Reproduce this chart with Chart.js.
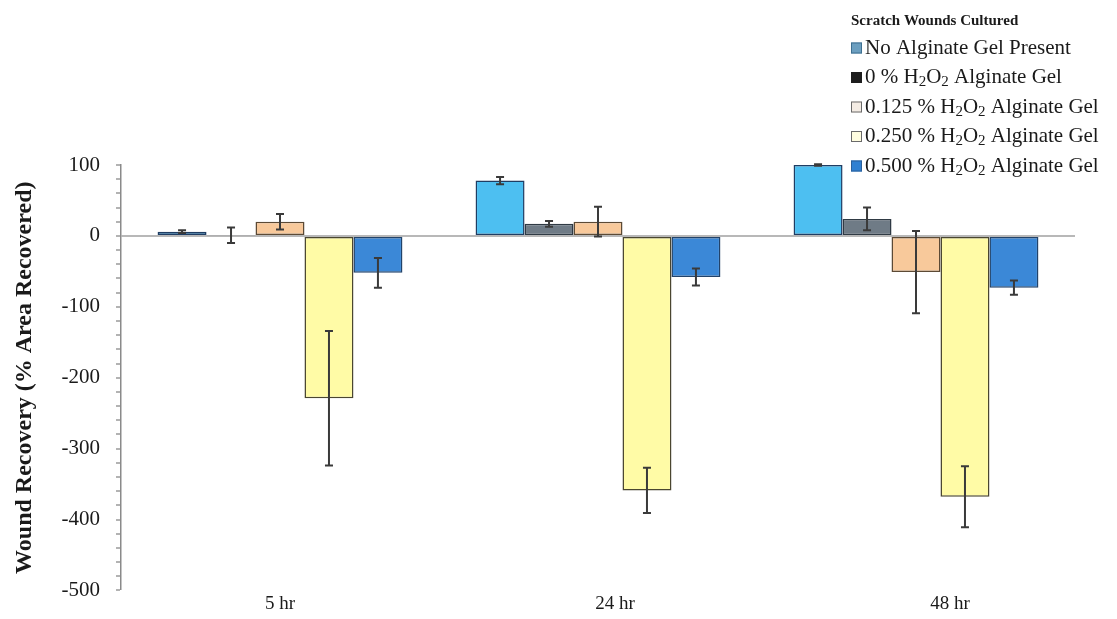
<!DOCTYPE html>
<html>
<head>
<meta charset="utf-8">
<title>Scratch wound recovery</title>
<script src="https://cdn.jsdelivr.net/npm/chart.js@4.4.1/dist/chart.umd.min.js"></script>
<style>
  html, body { margin: 0; padding: 0; background: #ffffff; }
  #wrap { width: 1117px; height: 619px; position: relative; }
</style>
</head>
<body>
<div id="wrap"><canvas id="chart"></canvas></div>
<script>
// Time points
const categories = ['5 hr', '24 hr', '48 hr'];

// Treatments (₂ is rendered as a subscript in the legend)
const seriesNames = [
  'No Alginate Gel Present',
  '0 % H₂O₂ Alginate Gel',
  '0.125 % H₂O₂ Alginate Gel',
  '0.250 % H₂O₂ Alginate Gel',
  '0.500 % H₂O₂ Alginate Gel'
];

// Mean wound recovery (% area recovered) and error (±)
const noGel      = [6, 78, 100];
const noGelErr   = [2, 5, 1];
const gel0       = [1, 17, 24];
const gel0Err    = [11, 4, 16];
const gel0125    = [20, 20, -51];
const gel0125Err = [11, 21, 58];
const gel0250    = [-229, -359, -368];
const gel0250Err = [95, 32, 43];
const gel0500    = [-52, -58, -73];
const gel0500Err = [21, 12, 10];

// Axis tick values
const yMin = -500, yMax = 100, yMinorStep = 20, yLabelStep = 100;

const fills   = ['#4dbff1', '#6f7b86', '#f8c99b', '#fffba6', '#3b88d7'];
const borders = ['#1f3d63', '#2f3a44', '#5c4a35', '#4a4630', '#22436a'];
const legendFills = ['#6c9fc0', '#1d1d1d', '#f4ece4', '#fffde0', '#2f80d2'];
const legendBorders = ['#3e6f90', '#1d1d1d', '#6a6a6a', '#6a6a6a', '#2a5f9a'];

const values = [noGel, gel0, gel0125, gel0250, gel0500];
const errors = [noGelErr, gel0Err, gel0125Err, gel0250Err, gel0500Err];

const SERIF = '"Liberation Serif", "Times New Roman", serif';

const datasets = seriesNames.map((name, i) => ({
  label: name,
  data: values[i],
  errors: errors[i],
  backgroundColor: fills[i],
  borderColor: borders[i],
  borderWidth: 1.5,
  borderSkipped: false,
  categoryPercentage: 0.77,
  barPercentage: 1.0
}));

// Error bars with caps
const errorBars = {
  id: 'errorBars',
  afterDatasetsDraw(chart) {
    const { ctx } = chart;
    const y = chart.scales.y;
    ctx.save();
    ctx.strokeStyle = '#3a3a3a';
    ctx.lineWidth = 2;
    chart.data.datasets.forEach((ds, i) => {
      const meta = chart.getDatasetMeta(i);
      meta.data.forEach((bar, j) => {
        const v = ds.data[j], e = ds.errors[j];
        const top = y.getPixelForValue(v + e);
        const bot = y.getPixelForValue(v - e);
        const cap = 4;
        ctx.beginPath();
        ctx.moveTo(bar.x, top); ctx.lineTo(bar.x, bot);
        ctx.moveTo(bar.x - cap, top); ctx.lineTo(bar.x + cap, top);
        ctx.moveTo(bar.x - cap, bot); ctx.lineTo(bar.x + cap, bot);
        ctx.stroke();
      });
    });
    ctx.restore();
  }
};

// Draws text where '₂' becomes a lowered, smaller "2"
function drawSubText(ctx, text, x, y, size) {
  const parts = text.split('₂');
  let cx = x;
  parts.forEach((p, k) => {
    ctx.font = size + 'px ' + SERIF;
    ctx.fillText(p, cx, y);
    cx += ctx.measureText(p).width;
    if (k < parts.length - 1) {
      ctx.font = Math.round(size * 0.72) + 'px ' + SERIF;
      ctx.fillText('2', cx, y + size * 0.22);
      cx += ctx.measureText('2').width;
    }
  });
}

// Legend block in the top-right corner
const sideLegend = {
  id: 'sideLegend',
  afterDraw(chart) {
    const { ctx } = chart;
    const left = 851, titleY = 21, firstY = 48, rowH = 29.5, box = 11;
    ctx.save();
    ctx.fillStyle = '#1a1a1a';
    ctx.textBaseline = 'middle';
    ctx.textAlign = 'left';
    ctx.font = 'bold 15px ' + SERIF;
    ctx.fillText('Scratch Wounds Cultured', left, titleY);
    chart.data.datasets.forEach((ds, i) => {
      const cy = firstY + i * rowH;
      ctx.fillStyle = legendFills[i];
      ctx.fillRect(left, cy - box / 2, box, box);
      ctx.strokeStyle = legendBorders[i];
      ctx.lineWidth = 1;
      ctx.strokeRect(left + 0.5, cy - box / 2 + 0.5, box - 1, box - 1);
      ctx.fillStyle = '#1a1a1a';
      drawSubText(ctx, ds.label, left + box + 3, cy, 21);
    });
    ctx.restore();
  }
};

new Chart(document.getElementById('chart'), {
  type: 'bar',
  data: { labels: categories, datasets },
  options: {
    responsive: true,
    maintainAspectRatio: false,
    animation: false,
    layout: { padding: { top: 165, right: 42, left: 0, bottom: 0 } },
    plugins: { legend: { display: false }, tooltip: { enabled: false } },
    scales: {
      x: {
        display: false
      },
      xLabels: {
        type: 'linear',
        position: 'bottom',
        offset: false,
        min: 0.5254,
        max: 3.373,
        grid: { display: false, drawTicks: false, offset: false },
        border: { display: false },
        afterFit(scale) { scale.height = 22; },
        ticks: {
          stepSize: 1,
          includeBounds: false,
          autoSkip: false,
          maxRotation: 0,
          padding: 2,
          color: '#1a1a1a',
          font: { family: SERIF, size: 19 },
          callback: v => (Number.isInteger(v) && categories[v - 1]) ? categories[v - 1] : ''
        }
      },
      y: {
        min: yMin,
        max: yMax,
        afterFit(scale) { scale.width = 121; },
        border: { display: true, color: '#8a8a8a', width: 1.5 },
        grid: {
          drawOnChartArea: true,
          drawTicks: true,
          tickLength: 5,
          tickColor: '#9a9a9a',
          tickWidth: 1.5,
          color: c => (c.tick && c.tick.value === 0) ? '#b8b8b8' : 'rgba(0,0,0,0)',
          lineWidth: c => (c.tick && c.tick.value === 0) ? 2 : 0
        },
        ticks: {
          stepSize: yMinorStep,
          autoSkip: false,
          padding: 16,
          color: '#1a1a1a',
          font: { family: SERIF, size: 21 },
          callback: v => (v % yLabelStep === 0) ? String(v) : ''
        },
        title: {
          display: true,
          text: 'Wound Recovery (% Area Recovered)',
          color: '#1a1a1a',
          padding: { top: 10, bottom: 0 },
          font: { family: SERIF, size: 24, weight: 'bold' }
        }
      }
    }
  },
  plugins: [errorBars, sideLegend]
});
</script>
</body>
</html>
